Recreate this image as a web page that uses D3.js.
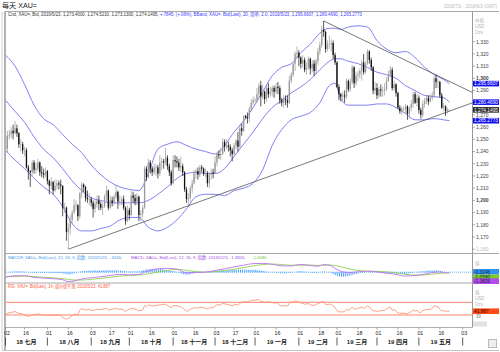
<!DOCTYPE html>
<html>
<head>
<meta charset="utf-8">
<script src="https://cdn.jsdelivr.net/npm/d3@7"></script>
<style>
  body { margin: 0; background: #fff; }
  svg { display: block; font-family: "Liberation Sans", "Noto Sans CJK SC", sans-serif; }
</style>
</head>
<body>
<svg id="chart" width="500" height="352"></svg>
<script>
// ---- data ----
// daily XAU= candles, one per weekday starting 2018-07-02
const opens = [
  1253,1242,1253,1254,1257,1255,1259,1255,1246,1246, 1241,1241,1227,1224,1223,1231,1225,1226,1231,1223,
  1222,1221,1224,1216,1212,1215,1208,1212,1214,1213, 1212,1194,1194,1174,1177,1184,1190,1196,1196,1187,
  1206,1213,1211,1202,1201,
  1201,1198,1193,1197,1200,1197,1194,1195,1203,1208, 1194,1200,1198,1203,1207,1199,1199,1201,1194,1183,
  1192,1188,1204,1202,1199,1203,1188,1189,1194,1226, 1219,1231,1226,1223,1227,1227,1222,1231,1232,1231, 1235,1228,1223,
  1214,1233,1232,1231,1227,1228,1223,1209,1201,1202, 1210,1214,1222,1224,1221,1227,1226,1222,1222,1214, 1221,1223,
  1222,1231,1238,1237,1238,1248,1244,1245,1244,1241, 1238,1245,1249,1244,1259,1257,1269,1268,1267,1275, 1280,
  1282,1282,1287,1294,1285,1289,1283,1292,1287,1289, 1292,1289,1293,1292,1282,1280,1283,1282,1280,1298, 1303,1312,1320,
  1321,1317,1312,1315,1307,1309,1316,1308,1312,1306, 1314,1322,1327,1340,1338,1324,1328,1328,1329,1319,
  1313,1293,1287,1285,1286,1285,1298,1291,1297,1309, 1296,1302,1303,1306,1313,1305,1312,1322,1315,1309, 1290,
  1292,1286,1291,1290,1290,1291,1298,1303,1307,1292, 1295,1288,1276,1273,1275,1275,1277,1271,1276,1279, 1287,1280,
  1284,1274,1270,1279,1281,1284,1281,1284,1286,1300, 1297,1297,1286,1276,1277,1273,1273.4
];
const highs = [
  1253,1257,1258,1260,1262,1265,1262,1256,1250,1248, 1244,1243,1229,1225,1233,1233,1231,1234,1232,1228,
  1226,1227,1225,1217,1219,1216,1217,1217,1216,1217, 1212,1198,1195,1181,1188,1192,1201,1200,1197,1207,
  1215,1214,1212,1208,1206,
  1203,1200,1200,1204,1204,1199,1198,1205,1212,1209, 1204,1203,1205,1212,1208,1204,1203,1204,1195,1196,
  1194,1208,1207,1205,1206,1204,1192,1196,1228,1228, 1234,1233,1228,1230,1230,1229,1237,1235,1234,1243, 1237,1230,1225,
  1237,1237,1236,1234,1236,1230,1224,1211,1206,1212, 1217,1225,1226,1227,1229,1229,1227,1226,1224,1223, 1226,1226,
  1236,1240,1241,1243,1251,1250,1250,1248,1246,1243, 1247,1250,1256,1262,1263,1270,1270,1272,1277,1283, 1285,
  1284,1292,1296,1298,1295,1290,1294,1296,1293,1294, 1294,1296,1297,1294,1284,1286,1286,1286,1302,1305, 1313,1322,1326,
  1323,1318,1319,1317,1313,1318,1317,1315,1315,1316, 1325,1330,1343,1347,1339,1331,1335,1332,1331,1321,
  1314,1295,1288,1289,1290,1300,1299,1300,1311,1310, 1305,1306,1308,1315,1320,1314,1324,1323,1317,1310, 1297,
  1296,1293,1295,1293,1296,1301,1306,1310,1309,1298, 1296,1289,1278,1277,1277,1279,1278,1277,1282,1289, 1289,1287,
  1286,1276,1282,1284,1286,1286,1287,1289,1302,1303, 1300,1298,1288,1280,1278,1276,1274.52
];
const lows = [
  1237,1239,1250,1251,1250,1254,1252,1243,1240,1238, 1236,1226,1217,1211,1220,1222,1222,1224,1220,1219,
  1218,1219,1213,1205,1209,1205,1207,1209,1209,1205, 1187,1190,1167,1160,1172,1181,1189,1192,1183,1185,
  1202,1207,1199,1198,1196,
  1195,1186,1190,1194,1192,1192,1188,1194,1199,1192, 1193,1195,1196,1201,1193,1196,1196,1192,1180,1182,
  1184,1187,1198,1196,1196,1183,1183,1186,1193,1216, 1218,1222,1220,1221,1220,1218,1220,1225,1226,1229, 1225,1220,1212,
  1213,1227,1227,1224,1223,1220,1207,1198,1196,1199, 1206,1213,1218,1217,1219,1223,1220,1219,1211,1210, 1217,1218,
  1222,1228,1234,1233,1237,1240,1242,1240,1236,1232, 1236,1242,1240,1243,1253,1256,1267,1263,1264,1273, 1278,
  1280,1280,1284,1277,1283,1279,1281,1284,1285,1285, 1284,1287,1287,1279,1277,1276,1278,1276,1279,1296, 1301,1306,1316,
  1310,1308,1309,1305,1303,1307,1303,1305,1302,1303, 1311,1319,1325,1334,1321,1322,1324,1322,1316,1311,
  1292,1282,1281,1281,1280,1283,1289,1289,1295,1292, 1294,1298,1300,1298,1303,1304,1311,1312,1306,1287, 1287,
  1283,1284,1285,1285,1286,1290,1297,1301,1290,1290, 1285,1275,1271,1270,1273,1271,1266,1267,1273,1276, 1279,1277,
  1271,1267,1268,1276,1279,1278,1280,1282,1284,1292, 1292,1284,1275,1273,1269,1271,1273.13
];
const closes = [
  1242,1253,1254,1257,1255,1259,1255,1246,1246,1241, 1241,1227,1224,1223,1231,1225,1226,1231,1223,1222,
  1221,1224,1216,1212,1215,1208,1212,1214,1213,1212, 1194,1194,1174,1177,1184,1190,1196,1196,1187,1206,
  1213,1211,1202,1201,1201,
  1198,1193,1197,1200,1197,1194,1195,1203,1208,1194, 1200,1198,1203,1207,1199,1199,1201,1194,1183,1192,
  1188,1204,1202,1199,1203,1188,1189,1194,1226,1219, 1231,1226,1223,1227,1227,1222,1231,1232,1231,1235, 1228,1223,1214,
  1233,1232,1231,1227,1228,1223,1209,1201,1202,1210, 1214,1222,1224,1221,1227,1226,1222,1222,1214,1221, 1223,1222,
  1231,1238,1237,1238,1248,1244,1245,1244,1241,1238, 1245,1249,1244,1259,1257,1269,1268,1267,1275,1280, 1282,
  1282,1287,1294,1285,1289,1283,1292,1287,1289,1292, 1289,1293,1292,1282,1280,1283,1282,1280,1298,1303, 1312,1320,1321,
  1317,1312,1315,1307,1309,1316,1308,1312,1306,1314, 1322,1327,1340,1338,1324,1328,1328,1329,1319,1313,
  1293,1287,1285,1286,1285,1298,1291,1297,1309,1296, 1302,1303,1306,1313,1305,1312,1322,1315,1309,1290, 1292,
  1286,1291,1290,1290,1291,1298,1303,1307,1292,1295, 1288,1276,1273,1275,1275,1277,1271,1276,1279,1287, 1280,1284,
  1274,1270,1279,1281,1284,1281,1284,1286,1300,1297, 1297,1286,1276,1277,1273,1274,1274.15
];

// Bollinger band (20, 2.0) read at sample days (trading-day number)
const bbDay   = [0,5,10,15,20,25,30,35,40,45, 50,55,60,65,70,75,80,85,90,95, 100,105,110,115,120,125,130,135,140,145,
                 150,155,160,165,170, 173,176,180,185,190,195,200,205,210,215,220,225,230,233];
const bbUpper = [1319,1310,1295,1278,1267,1262,1254,1246,1239,1229, 1221,1215,1211,1209,1208,1222,1242,1246,1248,1245,
                 1242,1240,1238,1245,1256,1265,1276,1289,1302,1309, 1312,1321,1328,1337,1341,
                 1341,1340,1342,1343,1342,1331,1324,1321,1322,1317,1309,1303,1299,1295.66];
const bbMid   = [1282,1273,1264,1252,1242,1235,1226,1216,1208,1202, 1200,1198,1198,1198,1198,1200,1205,1211,1218,1222,
                 1223,1222,1222,1226,1236,1246,1256,1267,1276,1282, 1288,1293,1299,1307,1314,
                 1316,1316,1314,1312,1309,1305,1303,1300,1294,1290,1286,1285,1284,1280.47];
const bbLower = [1241,1233,1226,1218,1211,1205,1195,1181,1175,1175, 1177,1179,1184,1186,1186,1178,1175,1178,1184,1193,
                 1203,1205,1205,1204,1208,1210,1214,1225,1245,1258, 1266,1269,1272,1280,1294,
                 1296,1283,1278,1278,1278,1279,1279,1276,1271,1266,1266,1267,1266,1265.28];

// trend lines: [trading day, price]
const supportLine = [[33, 1160], [247, 1281]];
const resistLine  = [[167, 1347], [247, 1287]];

// MACD (12, 26, 9)
const macdDay  = [0,5,10,15,20,25,30,33,36,40, 45,50,55,60,65,70,73,75,80,85, 90,95,100,105,110,115,120,125,130,135,
                  140,145,150,155,160,164,167,170,174,177, 181,185,190,195,200,203,206,209,213,216, 220,223,226,228,230,233];
const macdLine = [-7.5,-5.5,-5.5,-8,-9,-10,-11.5,-14.5,-13.5,-10.5, -8.5,-7,-5,-3.5,-4,-3.5,0,2,5,5.8,
                  4.5,-1,-0.5,0,2.5,5,8,10.5,13,13.3, 12,9.5,9.5,11.8,10,9,11.5,10.7,4,0.5,
                  -0.5,0.5,1.5,0.5,-1.5,-2.5,-4,-6,-5.5,-4.6, -3,-1,0,0.5,-0.7,-1.3826];
const macdSig  = [-7,-6.5,-6,-6.8,-7.8,-8.8,-9.8,-11,-12,-12, -11,-9.5,-7.8,-6,-5,-4.3,-3.5,-2.5,0,2.8,
                  4.2,2.8,0.8,0,0.8,2.5,4.5,7,9.5,11.5, 12.3,11.5,10.5,10.6,10.8,10.2,10.5,10.8,9.5,7.5,
                  4.5,2.5,1.5,1.2,0.5,-0.3,-1.5,-3,-4.3,-4.7, -4.2,-3.4,-2.5,-1.8,-1.3,-1.058];
const macdHist = [-0.5,1,0.5,-1.2,-1.2,-1.2,-1.7,-3.5,-1.5,1.5, 2.5,2.5,2.8,2.5,1,0.8,3.5,4.5,5,3,
                  0.3,-3.8,-1.3,0,1.7,2.5,3.5,3.5,3.5,1.8, -0.3,-2,-1,1.2,-0.8,-1.2,1,-0.1,-5.5,-7,
                  -5,-2,0,-0.7,-2,-2.2,-2.5,-3,-1.2,0.1, 1.2,2.4,2.5,2.3,0.6,-0.3246];

// RSI (14)
const rsiDay = [0,1,3,5,7,9,11,13,14,16, 17,19,21,22,24,26,28,29,30,32, 33,35,36,38,39,40,42,44,46,48,
                50,52,53,54,56,58,59,61,63,64, 66,68,70,72,73,74,75,77,79,81, 82,84,86,87,88,90,92,94,95,96,
                97,99,101,102,104,106,107,109,110,111, 113,114,116,118,119,121,122,123,125,127,
                129,131,133,134,135,136,137,139,141,143, 144,145,147,148,149,150,152,153,155,157,
                159,160,162,163,164,165,166,167,168,170, 171,172,173,174,175,177,178,179,180,181,
                182,183,185,187,188,189,190,191,192,193, 194,195,197,199,200,201,202,203,204,205,
                206,207,209,211,212,213,214,215,216,217, 218,219,221,223,224,225,226,227,228,229, 230,231,232,233];
const rsiVal = [27,36,38,41,35,33,27,26,32,31, 34,30,31,28,30,29,30,29,22,17, 19,28,33,30,46,50,46,47,44,48,
                47,50,52,45,48,51,48,49,41,45, 51,49,43,46,60,56,62,58,60,62, 63,64,56,52,60,59,56,47,42,43,
                48,53,52,55,53,49,53,53,58,62, 62,67,64,61,59,64,60,67,72,71,
                76,77,79,72,73,69,72,70,68,68, 60,59,59,58,67,70,74,74,68,64,
                66,62,60,63,66,68,73,72,63,64, 64,58,54,43,40,40,40,48,45,48,
                55,48,51,55,51,54,59,55,51,42, 44,41,44,44,49,52,55,45,47,43,
                36,35,36,34,38,40,46,42,45,39, 37,44,47,48,50,60,57,57,49,43, 44,42,42,41.887];
const rsiLevels = [70, 30];

// axis labels
const priceTicks = [1160,1170,1180,1190,1200,1210,1220,1230,1240,1250,1260,1270,1280,1290,1300,1310,1320,1330];
const dayTicks = ['2018-07-02','2018-07-16','2018-08-01','2018-08-16','2018-09-03','2018-09-17','2018-10-01','2018-10-16',
  '2018-11-01','2018-11-16','2018-12-03','2018-12-17','2019-01-01','2019-01-16','2019-02-01','2019-02-18',
  '2019-03-01','2019-03-18','2019-04-01','2019-04-16','2019-05-01','2019-05-16','2019-06-03'];
const monthStarts = ['2018-07-02','2018-08-01','2018-09-03','2018-10-01','2018-11-01','2018-12-03',
  '2019-01-01','2019-02-01','2019-03-01','2019-04-01','2019-05-01','2019-06-03'];
const monthLabels = ['18 七月','18 八月','18 九月','18 十月','18 十一月','18 十二月',
  '19 一月','19 二月','19 三月','19 四月','19 五月'];

// ---- chart ----
const svg = d3.select('#chart');
const pane = { left: 6, right: 472.5, top: 12, priceBottom: 253.5, macdBottom: 283, rsiBottom: 327.5 };

const fmtKey = d3.timeFormat('%Y-%m-%d');
const tradingDays = d3.timeDay.range(new Date(2018, 6, 2), new Date(2019, 5, 4)).filter(d => d.getDay() % 6 !== 0);
const dayIndex = new Map(tradingDays.map((d, i) => [fmtKey(d), i]));

const x = d3.scaleLinear().domain([0, tradingDays.length - 1]).range([5.5, 462.7]);
const y = d3.scaleLinear().domain([1160, 1330]).range([249.2, 41.7]);
const yMacd = d3.scaleLinear().domain([-15, 20]).range([282, 259]);
const yRsi = d3.scaleLinear().domain([0, 100]).range([324.5, 292.8]);

svg.append('rect').attr('width', 500).attr('height', 352).attr('fill', '#fff');

const defs = svg.append('defs');
[['clipPrice', pane.top, pane.priceBottom], ['clipMacd', pane.priceBottom, pane.macdBottom], ['clipRsi', pane.macdBottom, pane.rsiBottom]]
  .forEach(([id, t, b]) => defs.append('clipPath').attr('id', id).append('rect')
    .attr('x', pane.left).attr('y', t).attr('width', pane.right - pane.left).attr('height', b - t));
defs.append('pattern').attr('id', 'histPat').attr('patternUnits', 'userSpaceOnUse')
  .attr('width', 1.905).attr('height', 4)
  .append('rect').attr('width', 0.9).attr('height', 4).attr('fill', '#3f9cff');

function text(g, str, px, py, o = {}) {
  const t = g.append('text').attr('x', px).attr('y', py).text(str)
    .attr('font-size', o.size || 5).attr('fill', o.fill || '#333');
  if (o.anchor) t.attr('text-anchor', o.anchor);
  if (o.bold) t.attr('font-weight', 'bold');
  if (o.len) t.attr('textLength', o.len).attr('lengthAdjust', 'spacingAndGlyphs');
  return t;
}
// legend line made of coloured pieces, kept in one text element
function legend(g, parts, px, py, len) {
  const t = g.append('text').attr('x', px).attr('y', py).attr('font-size', 4.6)
    .attr('textLength', len).attr('lengthAdjust', 'spacingAndGlyphs');
  parts.forEach(([s, c]) => t.append('tspan').attr('fill', c).text(s));
  return t;
}

// frame
const frame = svg.append('g').attr('fill', 'none');
frame.append('line').attr('x1', 5).attr('x2', 499).attr('y1', 11.5).attr('y2', 11.5).attr('stroke', '#a8a8a8');
frame.append('line').attr('x1', 2).attr('x2', 2).attr('y1', 11.5).attr('y2', 350).attr('stroke', '#d0d0d0');
frame.append('line').attr('x1', 5).attr('x2', 5).attr('y1', 11.5).attr('y2', 350).attr('stroke', '#909090').attr('stroke-width', 1.4);
frame.append('line').attr('x1', pane.right).attr('x2', pane.right).attr('y1', 11.5).attr('y2', pane.rsiBottom).attr('stroke', '#999');
[pane.priceBottom, pane.macdBottom].forEach(v => frame.append('line')
  .attr('x1', 5).attr('x2', 499).attr('y1', v).attr('y2', v).attr('stroke', '#a8a8a8'));
frame.append('line').attr('x1', 5).attr('x2', pane.right).attr('y1', pane.rsiBottom).attr('y2', pane.rsiBottom).attr('stroke', '#b0b0b0');
frame.append('line').attr('x1', 2).attr('x2', 499).attr('y1', 350.5).attr('y2', 350.5).attr('stroke', '#c4c4c4');
frame.append('rect').attr('x', 488.5).attr('y', 339.5).attr('width', 8).attr('height', 8).attr('stroke', '#bbb').attr('fill', '#eee');

// header
text(svg, '每天 XAU=', 2, 8, { size: 7, fill: '#222', len: 35 });
text(svg, '2018/7/2 - 2019/6/3 (GMT)', 497, 7.5, { size: 4.5, fill: '#bbb', anchor: 'end', len: 53 });
legend(svg, [
  ['Cnd, XAU=, Bid, 2019/5/23, 1,273.4000, 1,274.5210, 1,273.1300, 1,274.1495, ', '#333'],
  ['+.7845, (+.06%), BBand, XAU=, Bid(Last), 20, 简单, 2.0, 2019/5/23, 1,295.6607, 1,280.4690, 1,265.2773', '#3b3bff']
], 8, 16.4, 354);

// ---- price pane ----
const price = svg.append('g').attr('clip-path', 'url(#clipPrice)');

const bandLine = d3.line().x((d, i) => x(bbDay[i])).y(d => y(d)).curve(d3.curveMonotoneX);
[bbUpper, bbMid, bbLower].forEach(arr => price.append('path')
  .attr('d', bandLine(arr)).attr('fill', 'none').attr('stroke', '#7272f2').attr('stroke-width', 0.9));

[supportLine, resistLine].forEach(l => price.append('line')
  .attr('x1', x(l[0][0])).attr('y1', y(l[0][1])).attr('x2', x(l[1][0])).attr('y2', y(l[1][1]))
  .attr('stroke', '#555').attr('stroke-width', 0.8));

const candles = price.append('g');
closes.forEach((c, i) => {
  const o = opens[i], up = c >= o, col = up ? '#9a9a9a' : '#111';
  const cx = x(i);
  candles.append('line').attr('x1', cx).attr('x2', cx).attr('y1', y(highs[i])).attr('y2', y(lows[i]))
    .attr('stroke', col).attr('stroke-width', 0.7);
  candles.append('rect').attr('x', cx - 0.65).attr('width', 1.3)
    .attr('y', y(Math.max(o, c))).attr('height', Math.max(0.6, Math.abs(y(o) - y(c))))
    .attr('fill', col);
});

// price axis; tick labels sitting under a value box are left out, as in the original
const boxValues = [bbUpper[bbUpper.length - 1], bbMid[bbMid.length - 1], closes[closes.length - 1], bbLower[bbLower.length - 1]];
const axis = svg.append('g');
priceTicks.forEach(v => {
  axis.append('line').attr('x1', pane.right).attr('x2', pane.right + 2.5).attr('y1', y(v)).attr('y2', y(v)).attr('stroke', '#777').attr('stroke-width', 0.6);
  if (boxValues.some(b => Math.abs(y(b) - y(v)) < 5)) return;
  text(axis, d3.format(',')(v), 476, y(v) + 1.8, { size: 5, fill: v === 1160 ? '#bbb' : '#444', bold: v % 100 === 0 });
});
[['价格', 22], ['USD', 28], ['Ozs', 34]].forEach(([s, py]) => text(axis, s, 475, py, { size: 4.5, fill: '#b4b4b4' }));

function valueBox(g, py, fill, txtFill, label) {
  g.append('rect').attr('x', 473).attr('y', py - 2.8).attr('width', 26).attr('height', 5.6).attr('fill', fill);
  text(g, label, 474, py + 1.8, { size: 4.8, fill: txtFill });
}
valueBox(axis, y(boxValues[0]), '#1010f0', '#fff', '1,295.6607');
valueBox(axis, y(boxValues[1]), '#1010f0', '#fff', '1,280.4690');
valueBox(axis, y(boxValues[2]), '#2b2b2b', '#fff', '1,274.1495');
valueBox(axis, y(boxValues[3]), '#1010f0', '#fff', '1,265.2773');

// ---- MACD pane ----
const macd = svg.append('g').attr('clip-path', 'url(#clipMacd)');
macd.append('path')
  .attr('d', d3.area().x((d, i) => x(macdDay[i])).y0(yMacd(0)).y1(d => yMacd(d)).curve(d3.curveMonotoneX)(macdHist))
  .attr('fill', 'url(#histPat)');
macd.append('line').attr('x1', pane.left).attr('x2', pane.right).attr('y1', yMacd(0)).attr('y2', yMacd(0))
  .attr('stroke', '#3f9cff').attr('stroke-width', 0.8).attr('stroke-dasharray', '1,1');
const macdPath = d3.line().x((d, i) => x(macdDay[i])).y(d => yMacd(d)).curve(d3.curveMonotoneX);
macd.append('path').attr('d', macdPath(macdSig)).attr('fill', 'none').attr('stroke', '#8fd14f').attr('stroke-width', 0.9);
macd.append('path').attr('d', macdPath(macdLine)).attr('fill', 'none').attr('stroke', '#c070f0').attr('stroke-width', 0.9);

// MACD legend: three separate pieces sized to their natural width
text(svg, 'MACDF, XAU=, Bid(Last), 12, 26, 9, 指数, 2019/5/23, -.3246,', 8, 258.8, { size: 4.25, fill: '#3c9cf0' });
text(svg, 'MACD, XAU=, Bid(Last), 12, 26, 9, 指数, 2019/5/23, -1.3826,', 131, 258.8, { size: 4.25, fill: '#a64be6' });
text(svg, '-1.0580', 252, 258.8, { size: 4.25, fill: '#6cbf3a' });

const macdAxis = svg.append('g');
text(macdAxis, '值', 475, 265, { size: 4.5, fill: '#b4b4b4' });
valueBox(macdAxis, 271.8, '#2f95f5', '#123', '-0.3246');
valueBox(macdAxis, 277.3, '#78cc2e', '#123', '-1.0580');
valueBox(macdAxis, 281.2, '#b44cf0', '#123', '-1.3826');

// ---- RSI pane ----
const rsi = svg.append('g').attr('clip-path', 'url(#clipRsi)');
rsiLevels.forEach(v => rsi.append('line').attr('x1', pane.left).attr('x2', pane.right)
  .attr('y1', yRsi(v)).attr('y2', yRsi(v)).attr('stroke', '#ff7a5c').attr('stroke-width', 0.9));
rsi.append('path')
  .attr('d', d3.line().x((d, i) => x(rsiDay[i])).y(d => yRsi(d))(rsiVal))
  .attr('fill', 'none').attr('stroke', '#ff8a6a').attr('stroke-width', 0.8);
text(svg, 'RSI, XAU=, Bid(Last), 14, 威尔德平滑, 2019/5/23, 41.887', 8, 288.4, { size: 4.6, fill: '#ff5a3c', len: 102 });

const rsiAxis = svg.append('g');
[['值', 293.5], ['USD', 299.5], ['Ozs', 305.5]].forEach(([s, py]) => text(rsiAxis, s, 475, py, { size: 4.5, fill: '#b4b4b4' }));
text(rsiAxis, '30', 476, yRsi(30) + 3.5, { size: 4.6, fill: '#777' });
valueBox(rsiAxis, yRsi(rsiVal[rsiVal.length - 1]), '#ff4a12', '#3a0a00', '41.887');
rsiAxis.append('rect').attr('x', 473).attr('y', 321.5).attr('width', 14).attr('height', 5).attr('fill', '#e2e2e2');

// ---- time axis ----
const tAxis = svg.append('g');
dayTicks.forEach(k => {
  const i = dayIndex.get(k);
  tAxis.append('line').attr('x1', x(i)).attr('x2', x(i)).attr('y1', pane.rsiBottom).attr('y2', pane.rsiBottom + 2)
    .attr('stroke', '#666').attr('stroke-width', 0.6);
  text(tAxis, k.slice(8), x(i) + 1.5, 335.2, { size: 5.3, fill: '#222', anchor: 'middle' });
});
monthStarts.forEach((k, m) => {
  const i = dayIndex.get(k);
  tAxis.append('line').attr('x1', x(i)).attr('x2', x(i)).attr('y1', 337.5).attr('y2', 345.5)
    .attr('stroke', '#333').attr('stroke-width', 0.8);
  if (m < monthLabels.length) {
    const mid = (x(i) + x(dayIndex.get(monthStarts[m + 1]))) / 2;
    text(tAxis, monthLabels[m], mid, 344, { size: 6, fill: '#222', anchor: 'middle', bold: true });
  }
});
</script>
</body>
</html>
